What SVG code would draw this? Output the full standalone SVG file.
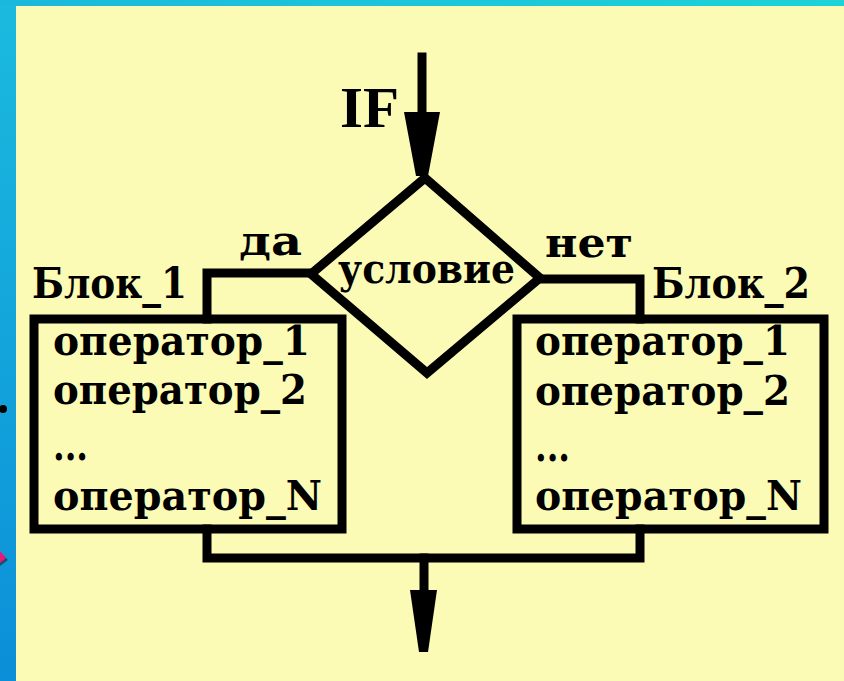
<svg xmlns="http://www.w3.org/2000/svg" width="844" height="681" viewBox="0 0 844 681">
<defs>
<linearGradient id="bandL" x1="0" y1="0" x2="0" y2="1">
<stop offset="0" stop-color="#1bbade"/>
<stop offset="1" stop-color="#0b8fd8"/>
</linearGradient>
<linearGradient id="bandT" x1="0" y1="0" x2="1" y2="0">
<stop offset="0" stop-color="#1ab8dc"/>
<stop offset="1" stop-color="#1cd3d8"/>
</linearGradient>
<style>
.ln{fill:none;stroke:#000;stroke-width:9;stroke-linejoin:miter;stroke-linecap:square}
.ah{fill:#000}
.t{font-family:"DejaVu Serif","Liberation Serif",serif;font-weight:bold;fill:#000}
.op{font-size:41px}
.lb{font-size:43px}
</style>
</defs>
<rect x="0" y="0" width="844" height="681" fill="url(#bandL)"/>
<rect x="0" y="0" width="844" height="6" fill="url(#bandT)"/>
<rect x="16" y="6" width="828" height="675" fill="#fbfbb5"/>
<circle cx="3" cy="409" r="4" fill="#000"/>
<polygon points="0,566 8,560 0,552" fill="#222" opacity="0.6"/>
<polygon points="0,563 6,558 0,551" fill="#e8187a"/>

<g id="connectors">
<line class="ln" x1="422" y1="57" x2="422" y2="112"/>
<polygon class="ah" points="404,112 440,112 428,176 416,176"/>
<polyline class="ln" points="311,273 207,273 207,319"/>
<polyline class="ln" points="540,279 640,279 640,319"/>
<polyline class="ln" points="207,529 207,558 640,558 640,529"/>
<line class="ln" x1="424" y1="558" x2="424" y2="590"/>
<polygon class="ah" points="410,590 437,590 428,652 419,652"/>
</g>

<g id="if-label">
<text x="340" y="127" font-family="Liberation Serif, serif" font-weight="bold" font-size="58" textLength="59" lengthAdjust="spacingAndGlyphs">IF</text>
</g>

<g id="condition">
<polygon class="ln" points="425,178 540,278 427,373 311,274"/>
<text class="t op" x="338" y="283" textLength="177" lengthAdjust="spacingAndGlyphs">условие</text>
<text class="t op" x="239" y="255" textLength="63" lengthAdjust="spacingAndGlyphs">да</text>
<text class="t op" x="545" y="257" textLength="88" lengthAdjust="spacingAndGlyphs">нет</text>
</g>

<g id="block1">
<rect class="ln" x="34" y="319" width="308" height="210"/>
<text class="t lb" x="32" y="298" textLength="155" lengthAdjust="spacingAndGlyphs">Блок_1</text>
<text class="t op" x="53" y="355" textLength="257" lengthAdjust="spacingAndGlyphs">оператор_1</text>
<text class="t op" x="53" y="404" textLength="254" lengthAdjust="spacingAndGlyphs">оператор_2</text>
<text class="t op" x="53" y="460" textLength="35" lengthAdjust="spacingAndGlyphs">...</text>
<text class="t op" x="53" y="510" textLength="269" lengthAdjust="spacingAndGlyphs">оператор_N</text>
</g>

<g id="block2">
<rect class="ln" x="517" y="319" width="307" height="210"/>
<text class="t lb" x="652" y="298" textLength="158" lengthAdjust="spacingAndGlyphs">Блок_2</text>
<text class="t op" x="535" y="355" textLength="255" lengthAdjust="spacingAndGlyphs">оператор_1</text>
<text class="t op" x="535" y="405" textLength="255" lengthAdjust="spacingAndGlyphs">оператор_2</text>
<text class="t op" x="535" y="461" textLength="35" lengthAdjust="spacingAndGlyphs">...</text>
<text class="t op" x="535" y="510" textLength="267" lengthAdjust="spacingAndGlyphs">оператор_N</text>
</g>
</svg>
